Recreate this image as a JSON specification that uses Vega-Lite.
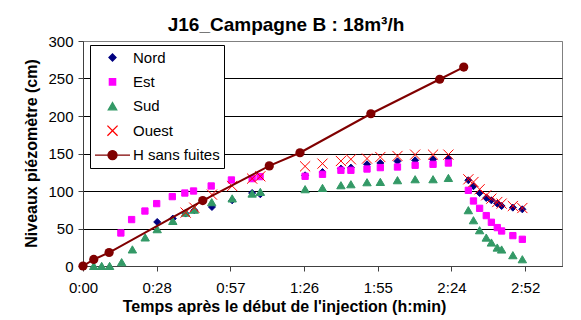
{
  "$schema": "https://vega.github.io/schema/vega-lite/v6.json",
  "width": 479,
  "height": 225,
  "autosize": "none",
  "padding": {"left": 83, "top": 41, "right": 19, "bottom": 54},
  "background": "white",
  "config": {
    "font": "Liberation Sans",
    "view": {"stroke": "#808080", "strokeWidth": 1},
    "legend": {
      "orient": "none",
      "legendX": 7,
      "legendY": 4,
      "strokeColor": "black",
      "fillColor": "white",
      "padding": 4,
      "labelFontSize": 15,
      "labelColor": "black",
      "labelFont": "Liberation Sans",
      "clipHeight": 17,
      "rowPadding": 7.4,
      "labelOffset": 2,
      "symbolSize": 1225,
      "symbolStrokeWidth": 1.3,
      "symbolOpacity": 1
    }
  },
  "title": {
    "text": "J16_Campagne B : 18m³/h",
    "fontSize": 19,
    "fontWeight": "bold",
    "color": "black",
    "anchor": "middle",
    "frame": "group",
    "dx": -36.5,
    "dy": 9,
    "offset": 8
  },
  "datasets": {
    "obs": [
      {"serie": "Nord", "t": 29.0, "v": 58.7},
      {"serie": "Nord", "t": 35.1, "v": 63.2},
      {"serie": "Nord", "t": 40.1, "v": 69.9},
      {"serie": "Nord", "t": 43.5, "v": 74.3},
      {"serie": "Nord", "t": 50.4, "v": 78.7},
      {"serie": "Nord", "t": 58.3, "v": 87.6},
      {"serie": "Nord", "t": 66.1, "v": 97.3},
      {"serie": "Nord", "t": 69.3, "v": 95.6},
      {"serie": "Nord", "t": 86.8, "v": 120.9},
      {"serie": "Nord", "t": 93.6, "v": 125.3},
      {"serie": "Nord", "t": 100.8, "v": 129.9},
      {"serie": "Nord", "t": 104.7, "v": 131.2},
      {"serie": "Nord", "t": 111.0, "v": 135.6},
      {"serie": "Nord", "t": 116.2, "v": 137.3},
      {"serie": "Nord", "t": 122.9, "v": 139.6},
      {"serie": "Nord", "t": 129.8, "v": 140.9},
      {"serie": "Nord", "t": 136.8, "v": 141.9},
      {"serie": "Nord", "t": 142.8, "v": 143.2},
      {"serie": "Nord", "t": 150.6, "v": 114.3},
      {"serie": "Nord", "t": 152.6, "v": 106.3},
      {"serie": "Nord", "t": 155.0, "v": 97.3},
      {"serie": "Nord", "t": 157.6, "v": 90.7},
      {"serie": "Nord", "t": 159.6, "v": 87.6},
      {"serie": "Nord", "t": 161.9, "v": 83.2},
      {"serie": "Nord", "t": 163.6, "v": 80.0},
      {"serie": "Nord", "t": 168.0, "v": 77.8},
      {"serie": "Nord", "t": 171.7, "v": 75.6},
      {"serie": "Est", "t": 14.8, "v": 44.0},
      {"serie": "Est", "t": 19.0, "v": 61.9},
      {"serie": "Est", "t": 24.2, "v": 73.3},
      {"serie": "Est", "t": 28.8, "v": 83.2},
      {"serie": "Est", "t": 34.9, "v": 92.5},
      {"serie": "Est", "t": 39.8, "v": 97.3},
      {"serie": "Est", "t": 43.2, "v": 100.0},
      {"serie": "Est", "t": 50.1, "v": 106.7},
      {"serie": "Est", "t": 58.0, "v": 114.7},
      {"serie": "Est", "t": 66.1, "v": 116.5},
      {"serie": "Est", "t": 69.2, "v": 119.2},
      {"serie": "Est", "t": 86.8, "v": 119.6},
      {"serie": "Est", "t": 93.6, "v": 122.3},
      {"serie": "Est", "t": 100.8, "v": 127.6},
      {"serie": "Est", "t": 104.7, "v": 127.6},
      {"serie": "Est", "t": 111.0, "v": 129.3},
      {"serie": "Est", "t": 116.2, "v": 131.2},
      {"serie": "Est", "t": 122.9, "v": 132.0},
      {"serie": "Est", "t": 129.8, "v": 134.3},
      {"serie": "Est", "t": 136.8, "v": 135.6},
      {"serie": "Est", "t": 142.8, "v": 137.3},
      {"serie": "Est", "t": 150.6, "v": 100.9},
      {"serie": "Est", "t": 152.6, "v": 86.7},
      {"serie": "Est", "t": 155.0, "v": 76.9},
      {"serie": "Est", "t": 157.6, "v": 67.2},
      {"serie": "Est", "t": 159.6, "v": 58.3},
      {"serie": "Est", "t": 161.9, "v": 51.2},
      {"serie": "Est", "t": 163.6, "v": 46.7},
      {"serie": "Est", "t": 168.0, "v": 40.5},
      {"serie": "Est", "t": 171.7, "v": 35.6},
      {"serie": "Sud", "t": 4.2, "v": 0},
      {"serie": "Sud", "t": 7.3, "v": 0},
      {"serie": "Sud", "t": 10.4, "v": 0},
      {"serie": "Sud", "t": 15.1, "v": 5},
      {"serie": "Sud", "t": 19.3, "v": 22},
      {"serie": "Sud", "t": 24.3, "v": 38},
      {"serie": "Sud", "t": 29.0, "v": 49},
      {"serie": "Sud", "t": 35.1, "v": 60},
      {"serie": "Sud", "t": 40.1, "v": 71},
      {"serie": "Sud", "t": 43.5, "v": 75},
      {"serie": "Sud", "t": 50.3, "v": 85},
      {"serie": "Sud", "t": 58.3, "v": 90},
      {"serie": "Sud", "t": 66.1, "v": 96.5},
      {"serie": "Sud", "t": 69.3, "v": 98.7},
      {"serie": "Sud", "t": 86.8, "v": 102.3},
      {"serie": "Sud", "t": 93.6, "v": 104.0},
      {"serie": "Sud", "t": 100.8, "v": 107.6},
      {"serie": "Sud", "t": 104.7, "v": 108.9},
      {"serie": "Sud", "t": 111.0, "v": 111.6},
      {"serie": "Sud", "t": 116.2, "v": 112.0},
      {"serie": "Sud", "t": 122.9, "v": 114.3},
      {"serie": "Sud", "t": 129.8, "v": 115.6},
      {"serie": "Sud", "t": 136.8, "v": 115.6},
      {"serie": "Sud", "t": 142.8, "v": 117.3},
      {"serie": "Sud", "t": 150.6, "v": 74.3},
      {"serie": "Sud", "t": 152.6, "v": 60.9},
      {"serie": "Sud", "t": 155.0, "v": 47.6},
      {"serie": "Sud", "t": 157.6, "v": 37.8},
      {"serie": "Sud", "t": 159.6, "v": 31.2},
      {"serie": "Sud", "t": 161.9, "v": 24.5},
      {"serie": "Sud", "t": 163.6, "v": 21.9},
      {"serie": "Sud", "t": 168.0, "v": 14.3},
      {"serie": "Sud", "t": 171.7, "v": 8.9},
      {"serie": "Ouest", "t": 40.1, "v": 71.2},
      {"serie": "Ouest", "t": 43.5, "v": 77.8},
      {"serie": "Ouest", "t": 50.4, "v": 95.2},
      {"serie": "Ouest", "t": 58.3, "v": 106.7},
      {"serie": "Ouest", "t": 66.1, "v": 116.5},
      {"serie": "Ouest", "t": 69.3, "v": 119.6},
      {"serie": "Ouest", "t": 86.8, "v": 132.9},
      {"serie": "Ouest", "t": 93.6, "v": 136.5},
      {"serie": "Ouest", "t": 100.8, "v": 140.0},
      {"serie": "Ouest", "t": 104.7, "v": 142.3},
      {"serie": "Ouest", "t": 111.0, "v": 143.2},
      {"serie": "Ouest", "t": 116.2, "v": 145.3},
      {"serie": "Ouest", "t": 122.9, "v": 146.7},
      {"serie": "Ouest", "t": 129.8, "v": 148.5},
      {"serie": "Ouest", "t": 136.8, "v": 148.5},
      {"serie": "Ouest", "t": 142.8, "v": 148.5},
      {"serie": "Ouest", "t": 150.6, "v": 115.6},
      {"serie": "Ouest", "t": 152.6, "v": 112.0},
      {"serie": "Ouest", "t": 155.0, "v": 102.3},
      {"serie": "Ouest", "t": 157.6, "v": 94.3},
      {"serie": "Ouest", "t": 159.6, "v": 89.8},
      {"serie": "Ouest", "t": 161.9, "v": 85.3},
      {"serie": "Ouest", "t": 163.6, "v": 83.2},
      {"serie": "Ouest", "t": 168.0, "v": 80.0},
      {"serie": "Ouest", "t": 171.7, "v": 77.3}
    ],
    "h": [
      {"serie": "H sans fuites", "t": 0, "v": 0},
      {"serie": "H sans fuites", "t": 4.2, "v": 8.7},
      {"serie": "H sans fuites", "t": 10.2, "v": 18},
      {"serie": "H sans fuites", "t": 46.8, "v": 87.3},
      {"serie": "H sans fuites", "t": 72.8, "v": 133.5},
      {"serie": "H sans fuites", "t": 84.8, "v": 151},
      {"serie": "H sans fuites", "t": 112.5, "v": 203},
      {"serie": "H sans fuites", "t": 139.4, "v": 249},
      {"serie": "H sans fuites", "t": 148.8, "v": 265.3}
    ]
  },
  "encoding": {
    "x": {
      "field": "t",
      "type": "quantitative",
      "scale": {"domain": [0, 187.2], "nice": false, "zero": false},
      "axis": {
        "values": [0, 28.8, 57.6, 86.4, 115.2, 144, 172.8],
        "labelExpr": "floor(datum.value/60) + ':' + (floor(datum.value%60) < 10 ? '0' : '') + floor(datum.value%60)",
        "title": "Temps après le début de l'injection (h:min)",
        "grid": false,
        "domainColor": "#404040",
        "tickColor": "#404040",
        "tickSize": 5,
        "labelFontSize": 15,
        "labelColor": "black",
        "labelPadding": 9,
        "labelFlush": false,
        "labelOverlap": false,
        "titleFontSize": 16,
        "titleFontWeight": "bold",
        "titleColor": "black",
        "titleX": 201,
        "titleY": 40,
        "titleBaseline": "middle"
      }
    },
    "y": {
      "field": "v",
      "type": "quantitative",
      "scale": {"domain": [0, 300], "nice": false},
      "axis": {
        "values": [0, 50, 100, 150, 200, 250, 300],
        "title": "Niveaux piézomètre (cm)",
        "grid": true,
        "gridColor": {"condition": {"test": "datum.value === 300", "value": "#808080"}, "value": "#000000"},
        "domainColor": "#404040",
        "tickColor": "#404040",
        "tickSize": 5,
        "labelFontSize": 15,
        "labelColor": "black",
        "labelPadding": 5,
        "titleFontSize": 16,
        "titleFontWeight": "bold",
        "titleColor": "black",
        "titleX": -47,
        "titleY": 112,
        "titleBaseline": "alphabetic"
      }
    }
  },
  "layer": [
    {
      "data": {"name": "obs"},
      "mark": {"type": "point", "filled": true, "opacity": 1, "strokeWidth": 1, "size": 1225},
      "encoding": {
        "shape": {
          "field": "serie", "type": "nominal",
          "scale": {"domain": ["Nord", "Est", "Sud", "Ouest", "H sans fuites"],
                    "range": ["M-0.2,0L0,-0.2L0.2,0L0,0.2Z", "M-0.18,-0.18L0.18,-0.18L0.18,0.18L-0.18,0.18Z", "M0,-0.21L0.24,0.2L-0.24,0.2Z", "M-0.29,-0.29L0.29,0.29M-0.29,0.29L0.29,-0.29", "M-1,0L1,0M-0.26,0A0.26,0.26,0,1,1,0.26,0A0.26,0.26,0,1,1,-0.26,0Z"]},
          "legend": {"title": null, "orient": "none", "legendX": 7, "legendY": 4}
        },
        "fill": {
          "field": "serie", "type": "nominal",
          "scale": {"domain": ["Nord", "Est", "Sud", "Ouest", "H sans fuites"],
                    "range": ["#000080", "#FF00FF", "#339966", "transparent", "#800000"]},
          "legend": {"title": null, "orient": "none", "legendX": 7, "legendY": 4}
        },
        "stroke": {
          "field": "serie", "type": "nominal",
          "scale": {"domain": ["Nord", "Est", "Sud", "Ouest", "H sans fuites"],
                    "range": ["#000080", "#FF00FF", "#339966", "#FF0000", "#800000"]},
          "legend": {"title": null, "orient": "none", "legendX": 7, "legendY": 4}
        }
      }
    },
    {
      "data": {"name": "h"},
      "mark": {"type": "line", "color": "#800000", "strokeWidth": 2},
      "encoding": {}
    },
    {
      "data": {"name": "h"},
      "mark": {"type": "point", "shape": "circle", "filled": true, "color": "#800000", "size": 85, "opacity": 1},
      "encoding": {}
    }
  ]
}
